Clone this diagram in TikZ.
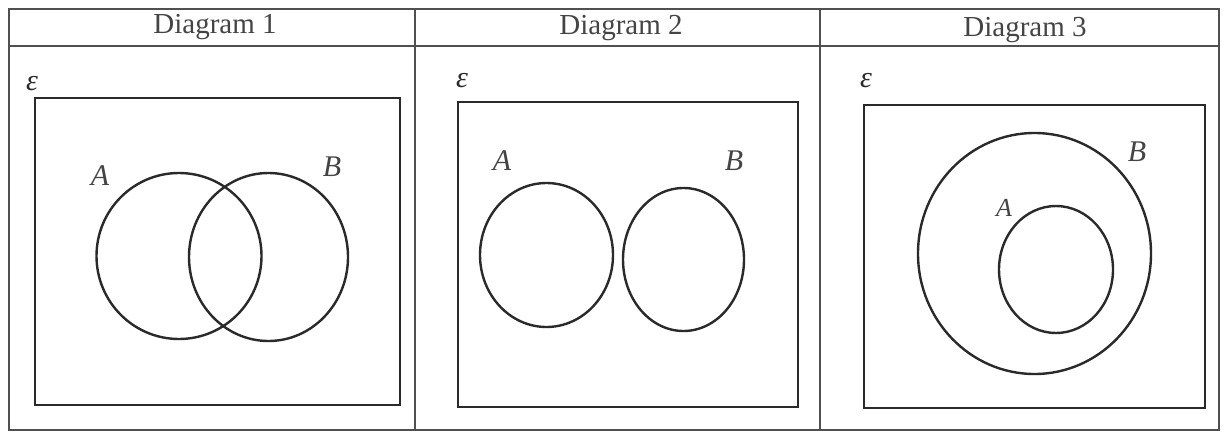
\documentclass[tikz,border=0pt]{standalone}
\usepackage{fontspec}
\setmainfont{Liberation Serif}
\usetikzlibrary{shapes.geometric}
\definecolor{ink}{HTML}{2A2A2A}
\definecolor{grid}{HTML}{505050}
\definecolor{head}{HTML}{444444}
\tikzset{
  tableline/.style={draw=grid, line width=1.6pt},
  universe/.style={draw=ink, line width=2.8pt},
  setshape/.style={draw=ink, line width=2.4pt, ellipse, inner sep=0pt},
  headtext/.style={text=head, font=\fontsize{29}{31}\selectfont},
  setlabel/.style={text=head, font=\fontsize{30}{32}\selectfont\itshape},
  eps/.style={text=ink, font=\fontsize{30}{32}\selectfont\itshape}
}
\begin{document}
\begin{tikzpicture}[x=1pt,y=-1pt]
\useasboundingbox (0,0) rectangle (1223,434);
% table
\draw[tableline] (9,9) rectangle (1219,430);
\draw[tableline] (9,46) -- (1219,46);
\draw[tableline] (415,9) -- (415,430);
\draw[tableline] (820,9) -- (820,430);
\node[headtext] (h1) at (215,27) {Diagram 1};
\node[headtext] (h2) at (621,28) {Diagram 2};
\node[headtext] (h3) at (1025,30) {Diagram 3};
% Diagram 1
\node[eps] (e1) at (32,84) {ε};
\draw[universe] (35,98) rectangle (400,405);
\node[setshape, minimum width=165pt, minimum height=166pt] (a1) at (179,256) {};
\node[setshape, minimum width=159pt, minimum height=168pt] (b1) at (268.5,257) {};
\node[setlabel] (la1) at (100,176) {A};
\node[setlabel] (lb1) at (332,167) {B};
% Diagram 2
\node[eps] (e2) at (462,81) {ε};
\draw[universe] (458,102) rectangle (798,407);
\node[setshape, minimum width=133pt, minimum height=144pt] (a2) at (546.5,255) {};
\node[setshape, minimum width=121pt, minimum height=143pt] (b2) at (683.5,259.5) {};
\node[setlabel] (la2) at (502,161) {A};
\node[setlabel] (lb2) at (734,161) {B};
% Diagram 3
\node[eps] (e3) at (866,81) {ε};
\draw[universe] (864,105) rectangle (1205,408);
\node[setshape, minimum width=233pt, minimum height=241pt] (b3) at (1034.5,253.5) {};
\node[setshape, minimum width=114pt, minimum height=127pt] (a3) at (1056,269.5) {};
\node[setlabel, font=\fontsize{26}{28}\selectfont\itshape] (la3) at (1004,208) {A};
\node[setlabel] (lb3) at (1137,152) {B};
\end{tikzpicture}
\end{document}
